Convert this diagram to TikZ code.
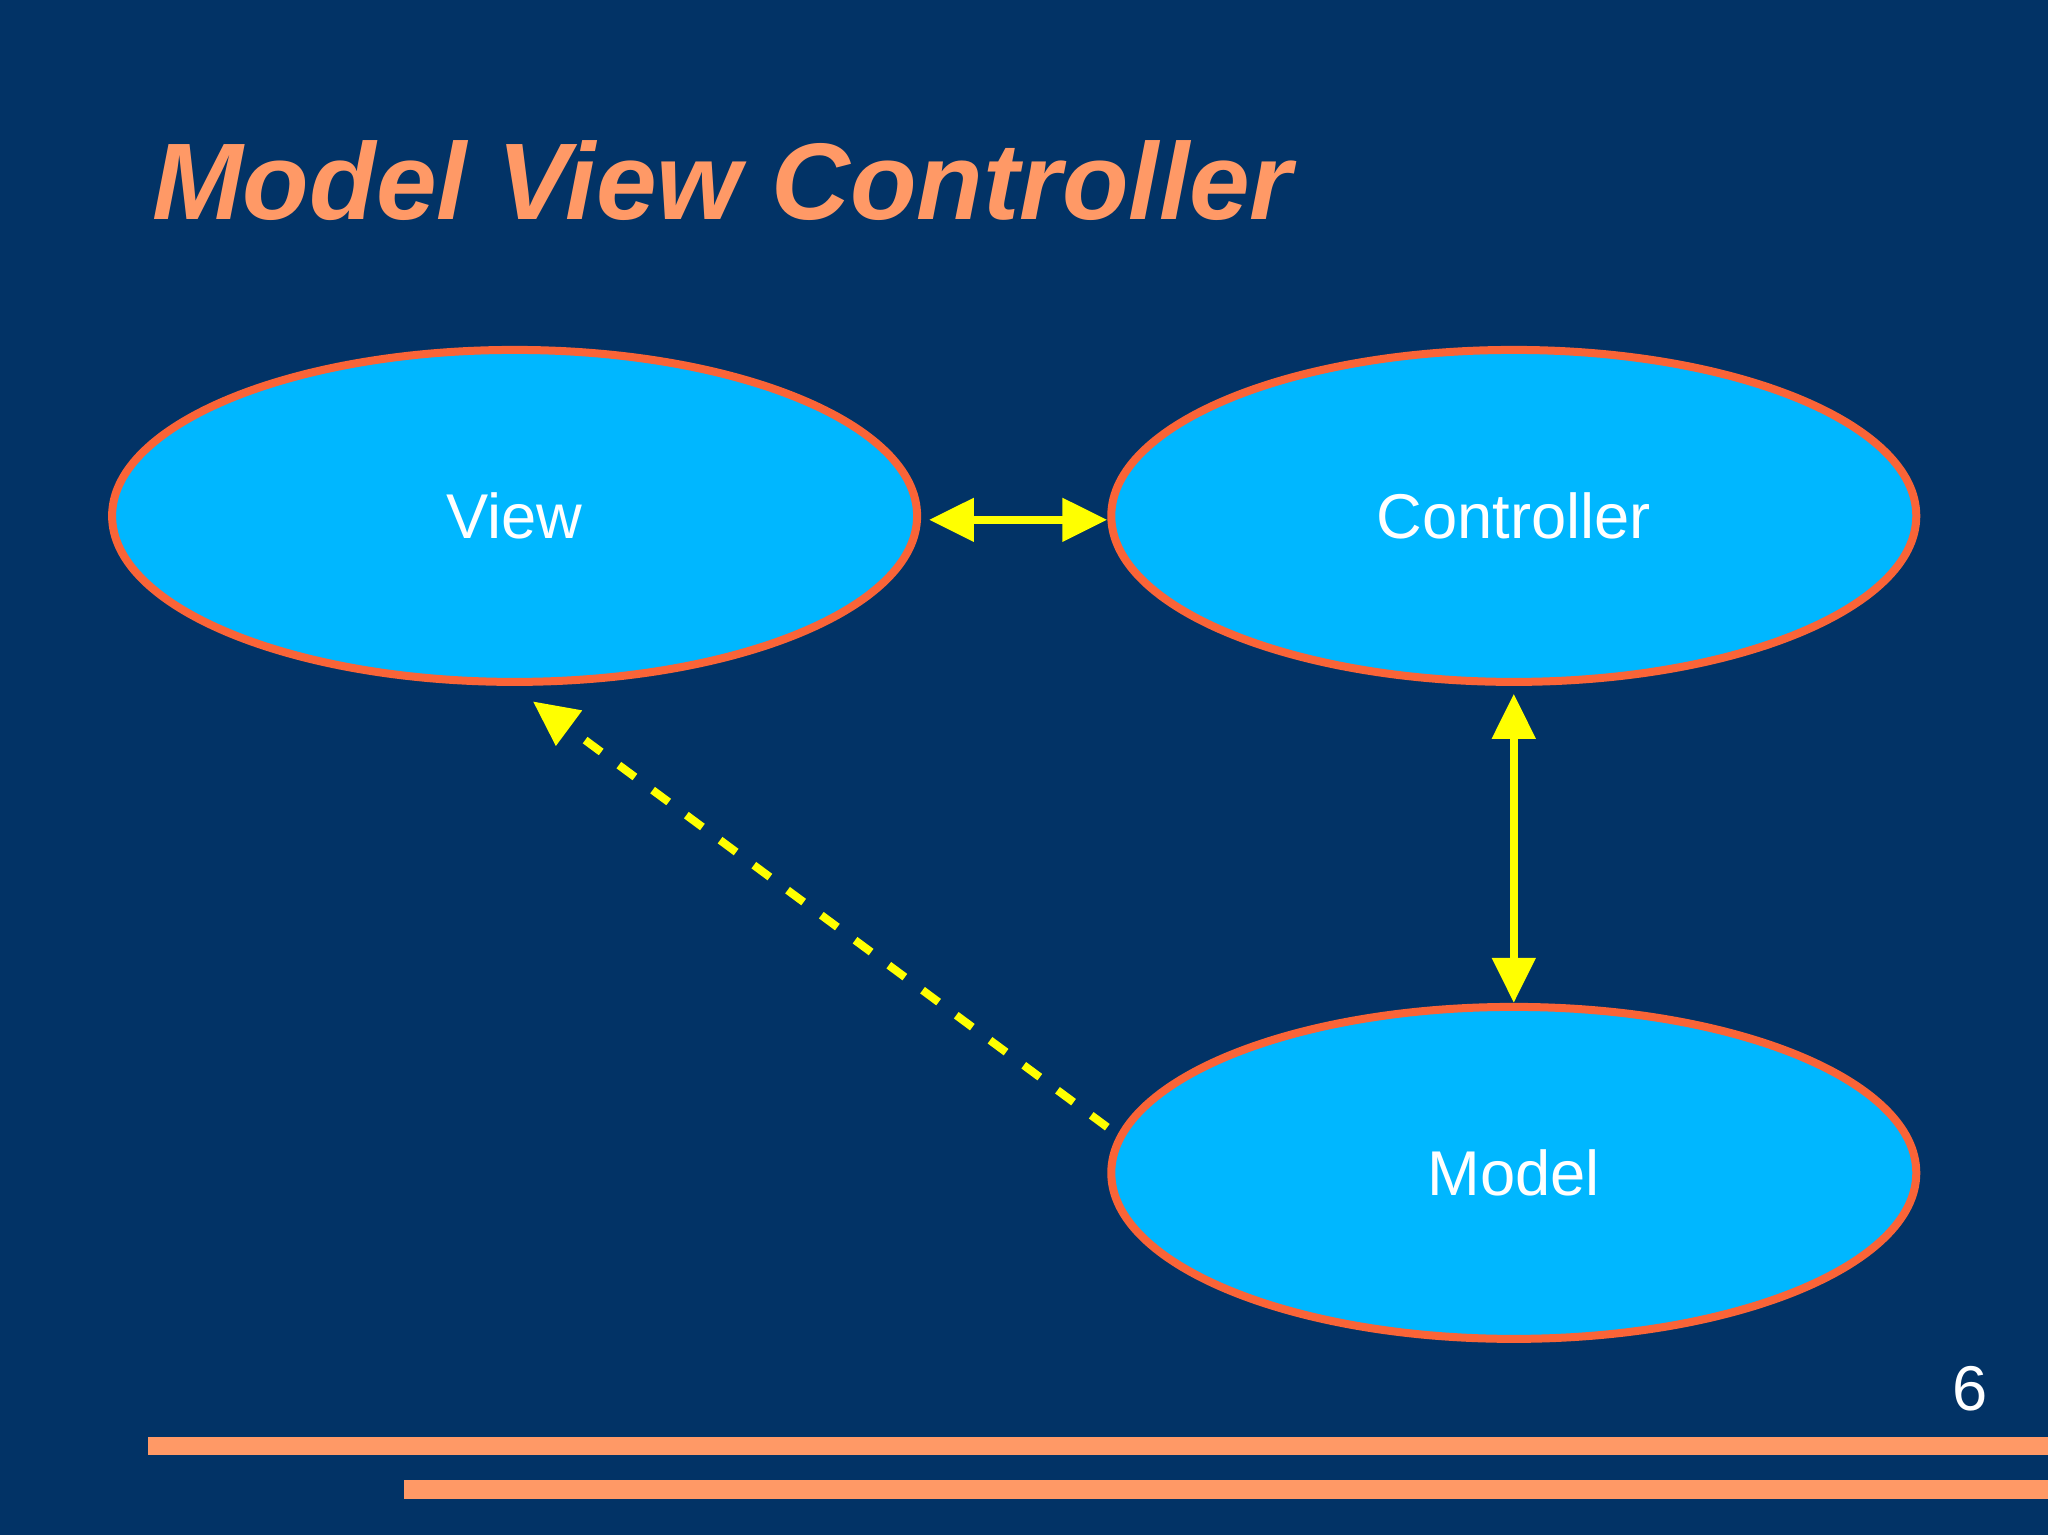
\documentclass[tikz,border=0pt]{standalone}
\usepackage{fontspec}
\setmainfont{Liberation Sans}
\usetikzlibrary{arrows.meta,shapes.geometric}
\definecolor{bg}{RGB}{2,51,102}
\definecolor{salmon}{RGB}{255,153,102}
\definecolor{edge}{RGB}{250,100,55}
\definecolor{fillb}{RGB}{0,183,255}
\definecolor{yel}{RGB}{255,255,0}
\begin{document}
\begin{tikzpicture}[x=0.01306cm,y=-0.01306cm,
  ell/.style={draw=edge,line width=0.08cm,fill=fillb,ellipse,minimum width=8.05cm,minimum height=3.32cm,text=white,font=\fontsize{18}{20}\selectfont},
  arr/.style={draw=yel,line width=0.08cm,-{Triangle[width=0.42cm,length=0.45cm]}},
  darr/.style={arr,{Triangle[width=0.42cm,length=0.45cm]}-{Triangle[width=0.42cm,length=0.45cm]}}]
\fill[bg] (0,0) rectangle (1568,1175.3);
\useasboundingbox (0,0) rectangle (1568,1175.3);
\node[anchor=base west,text=salmon,font=\fontsize{31}{34}\bfseries\itshape\selectfont,inner sep=0] (title) at (116,168) {Model View Controller};
\node[ell] (view) at (394,395) {View};
\node[ell] (ctrl) at (1159,395) {Controller};
\node[ell] (model) at (1159,898) {Model};
\draw[darr] (view.east) ++(6,3) coordinate (a) -- (a -| ctrl.west);
\draw[darr] (ctrl.south) ++(0,6) coordinate (b) -- (model.north);
\draw[arr,dash pattern=on 0.2cm off 0.22cm] (model.west) ++(0,-35) coordinate (c) -- (408,537) coordinate (d);
\node[text=white,font=\fontsize{18}{20}\selectfont,anchor=base] (num) at (1508,1080) {6};
\fill[salmon] (113,1100) rectangle (1568,1114);
\fill[salmon] (309,1133) rectangle (1568,1148);
\end{tikzpicture}
\end{document}
